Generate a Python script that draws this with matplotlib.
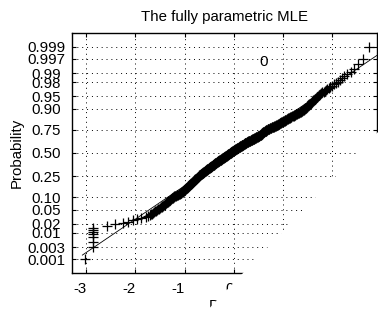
import numpy as np
import matplotlib
matplotlib.use('Agg')
import matplotlib.pyplot as plt
from matplotlib.patches import Polygon
from statistics import NormalDist

plt.rcParams['font.family'] = ['Liberation Sans', 'DejaVu Sans']
plt.rcParams['axes.unicode_minus'] = False

# sorted sample (lowest ranks, body, highest ranks)
lower_tail = [-3.03, -2.86, -2.86, -2.86, -2.86, -2.86, -2.86, -2.86,
              -2.58, -2.42, -2.26, -2.15, -2.06, -1.96, -1.88, -1.79,
              -1.74, -1.71, -1.69, -1.66]
body = [
    -1.64, -1.62, -1.60, -1.58, -1.56, -1.54, -1.52, -1.50, -1.49, -1.47,
    -1.46, -1.44, -1.42, -1.41, -1.40, -1.39, -1.38, -1.36, -1.35, -1.34,
    -1.33, -1.31, -1.30, -1.29, -1.28, -1.27, -1.26, -1.25, -1.24, -1.23,
    -1.22, -1.21, -1.19, -1.18, -1.16, -1.15, -1.14, -1.12, -1.11, -1.10,
    -1.08, -1.07, -1.07, -1.06, -1.05, -1.04, -1.04, -1.03, -1.02, -1.02,
    -1.01, -1.00, -1.00, -0.99, -0.98, -0.97, -0.97, -0.96, -0.96, -0.95,
    -0.94, -0.94, -0.93, -0.93, -0.92, -0.92, -0.91, -0.91, -0.90, -0.89,
    -0.89, -0.88, -0.88, -0.87, -0.87, -0.86, -0.86, -0.85, -0.85, -0.84,
    -0.84, -0.83, -0.83, -0.82, -0.82, -0.81, -0.81, -0.80, -0.80, -0.79,
    -0.79, -0.78, -0.78, -0.77, -0.77, -0.76, -0.76, -0.75, -0.75, -0.74,
    -0.74, -0.74, -0.73, -0.73, -0.72, -0.71, -0.71, -0.70, -0.70, -0.69,
    -0.69, -0.68, -0.68, -0.67, -0.67, -0.66, -0.66, -0.65, -0.65, -0.64,
    -0.63, -0.63, -0.62, -0.62, -0.61, -0.61, -0.60, -0.60, -0.59, -0.59,
    -0.58, -0.58, -0.57, -0.57, -0.56, -0.56, -0.55, -0.55, -0.54, -0.54,
    -0.53, -0.52, -0.52, -0.51, -0.51, -0.50, -0.50, -0.49, -0.49, -0.48,
    -0.48, -0.47, -0.47, -0.46, -0.46, -0.45, -0.45, -0.44, -0.44, -0.43,
    -0.43, -0.42, -0.42, -0.41, -0.41, -0.41, -0.40, -0.40, -0.39, -0.39,
    -0.38, -0.38, -0.37, -0.37, -0.36, -0.36, -0.35, -0.35, -0.34, -0.34,
    -0.33, -0.33, -0.32, -0.32, -0.31, -0.31, -0.30, -0.30, -0.29, -0.28,
    -0.28, -0.27, -0.27, -0.26, -0.26, -0.25, -0.25, -0.24, -0.24, -0.23,
    -0.23, -0.22, -0.22, -0.21, -0.21, -0.20, -0.20, -0.19, -0.19, -0.18,
    -0.18, -0.17, -0.17, -0.16, -0.16, -0.15, -0.15, -0.14, -0.14, -0.13,
    -0.13, -0.12, -0.12, -0.11, -0.11, -0.10, -0.10, -0.09, -0.09, -0.08,
    -0.08, -0.07, -0.07, -0.06, -0.06, -0.05, -0.04, -0.04, -0.03, -0.03,
    -0.02, -0.02, -0.01, -0.01, 0.00, 0.01, 0.01, 0.02, 0.02, 0.03,
    0.03, 0.04, 0.04, 0.05, 0.05, 0.06, 0.07, 0.07, 0.08, 0.08,
    0.09, 0.09, 0.10, 0.10, 0.11, 0.12, 0.12, 0.13, 0.13, 0.14,
    0.14, 0.15, 0.16, 0.16, 0.17, 0.17, 0.18, 0.18, 0.19, 0.20,
    0.20, 0.21, 0.21, 0.22, 0.22, 0.23, 0.23, 0.24, 0.25, 0.25,
    0.26, 0.27, 0.27, 0.28, 0.29, 0.29, 0.30, 0.31, 0.31, 0.32,
    0.33, 0.34, 0.34, 0.35, 0.36, 0.36, 0.37, 0.38, 0.38, 0.39,
    0.40, 0.41, 0.41, 0.42, 0.43, 0.43, 0.44, 0.45, 0.45, 0.46,
    0.47, 0.48, 0.48, 0.49, 0.50, 0.50, 0.51, 0.52, 0.52, 0.53,
    0.54, 0.54, 0.55, 0.55, 0.56, 0.56, 0.57, 0.57, 0.58, 0.58,
    0.59, 0.59, 0.60, 0.60, 0.61, 0.62, 0.62, 0.63, 0.63, 0.64,
    0.65, 0.65, 0.66, 0.66, 0.67, 0.68, 0.69, 0.70, 0.70, 0.71,
    0.72, 0.73, 0.74, 0.75, 0.76, 0.77, 0.78, 0.79, 0.80, 0.81,
    0.82, 0.83, 0.84, 0.85, 0.86, 0.87, 0.88, 0.89, 0.90, 0.91,
    0.91, 0.92, 0.93, 0.93, 0.94, 0.95, 0.96, 0.97, 0.98, 0.99,
    1.00, 1.01, 1.02, 1.03, 1.03, 1.04, 1.05, 1.06, 1.07, 1.08,
    1.09, 1.10, 1.11, 1.12, 1.13, 1.14, 1.15, 1.16, 1.18, 1.20,
    1.21, 1.22, 1.24, 1.25, 1.26, 1.27, 1.29, 1.30, 1.31, 1.33,
    1.34, 1.35, 1.36, 1.37, 1.38, 1.39, 1.40, 1.41, 1.42, 1.43,
    1.45, 1.45, 1.46, 1.47, 1.48, 1.49, 1.49, 1.50, 1.51, 1.52,
    1.53, 1.54, 1.55, 1.56, 1.57, 1.58, 1.59, 1.60, 1.61, 1.62,
    1.64, 1.65, 1.66, 1.68, 1.69, 1.70, 1.72, 1.73, 1.75, 1.77,
]
upper_tail = [1.79, 1.82, 1.84, 1.87, 1.90, 1.93, 1.96, 1.99, 2.03, 2.07,
              2.11, 2.15, 2.19, 2.24, 2.30, 2.37, 2.44, 2.52, 2.62, 2.75]

prob_ticks = [0.001, 0.003, 0.01, 0.02, 0.05, 0.10, 0.25, 0.50,
              0.75, 0.90, 0.95, 0.98, 0.99, 0.997, 0.999]
prob_labels = ['0.001', '0.003', '0.01', '0.02', '0.05', '0.10', '0.25', '0.50',
               '0.75', '0.90', '0.95', '0.98', '0.99', '0.997', '0.999']
x_ticks = [-3, -2, -1, 0, 1, 2]

nd = NormalDist()
data = np.sort(np.array(lower_tail + body + upper_tail))
n = len(data)
pp = (np.arange(1, n + 1) - 0.5) / n
z = np.array([nd.inv_cdf(p) for p in pp])

# reference line through the quartiles (like normplot)
q1 = np.interp(0.25, pp, data)
q3 = np.interp(0.75, pp, data)
zq1, zq3 = nd.inv_cdf(0.25), nd.inv_cdf(0.75)
slope = (zq3 - zq1) / (q3 - q1)

xlim = (-3.29, 2.90)
ylim = (-3.49, 3.49)
fs = 10.8

fig = plt.figure(figsize=(3.78, 3.18), dpi=100)
ax = fig.add_axes([72 / 378, 45 / 318, 304.7 / 378, 240 / 318])

lx = np.array([data.min() - 0.05, xlim[1]])
ax.plot(lx, zq1 + slope * (lx - q1), color='k', lw=0.6)
ax.plot(data, z, '+', color='k', ms=7.8, mew=0.9)

ax.set_xlim(*xlim)
ax.set_ylim(*ylim)
ax.set_xticks(x_ticks)
ax.set_xticklabels([str(t) for t in x_ticks], ha='right')
ax.set_yticks([nd.inv_cdf(p) for p in prob_ticks])
ax.set_yticklabels(prob_labels, ha='center')
ax.grid(True, color='k', lw=0.7, linestyle=(0, (1, 4)))
ax.tick_params(direction='in', length=3, width=0.8, top=True, right=True,
               labelsize=fs)
ax.tick_params(axis='y', pad=18.4)
ax.tick_params(axis='x', pad=6.5)
for s in ax.spines.values():
    s.set_linewidth(1.0)

ax.set_title('The fully parametric MLE', fontsize=fs, pad=9)
ax.set_ylabel('Probability', fontsize=fs)
ax.yaxis.set_label_coords(-0.1575, 0.5)
ax.set_xlabel('Data', fontsize=fs)
ax.xaxis.set_label_coords(0.5, -0.108)

# blank lower-right wedge of the original rendering
W, H = 378.0, 318.0
wedge = Polygon([(200 / W, 0), (1.0, 1 - 132 / H), (1.0, 0)], closed=True,
                transform=fig.transFigure, facecolor='white', edgecolor='none',
                zorder=10)
fig.add_artist(wedge)
fig.text(263.5 / W, 1 - 62 / H, '0', fontsize=fs, ha='center', va='center',
         zorder=11)

fig.savefig('out.png', dpi=100)
